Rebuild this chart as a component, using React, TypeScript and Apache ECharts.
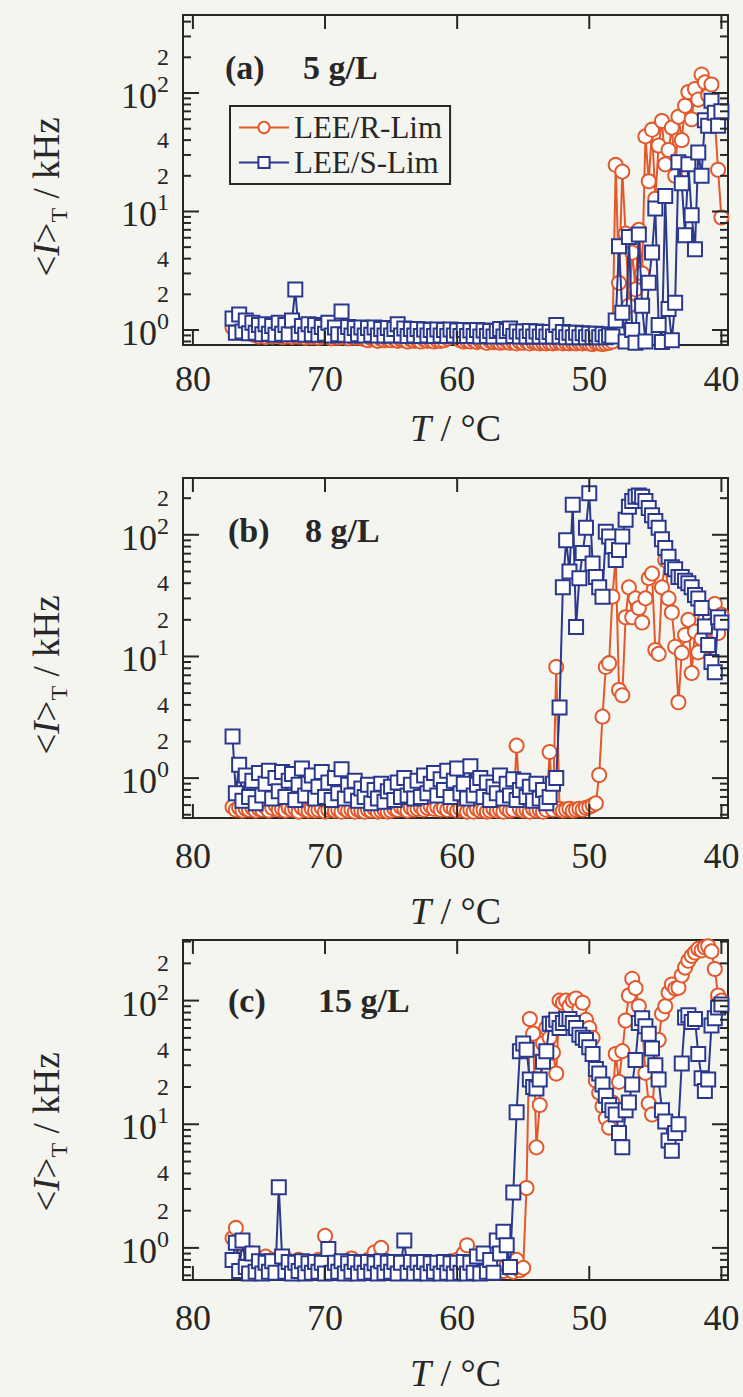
import React, { useEffect, useRef } from 'react';
import * as echarts from 'echarts';

// ---------- data ----------
const temperatureC = [
  77, 76.75, 76.5, 76.25, 76, 75.75, 75.5, 75.25,
  75, 74.75, 74.5, 74.25, 74, 73.75, 73.5, 73.25,
  73, 72.75, 72.5, 72.25, 72, 71.75, 71.5, 71.25,
  71, 70.75, 70.5, 70.25, 70, 69.75, 69.5, 69.25,
  69, 68.75, 68.5, 68.25, 68, 67.75, 67.5, 67.25,
  67, 66.75, 66.5, 66.25, 66, 65.75, 65.5, 65.25,
  65, 64.75, 64.5, 64.25, 64, 63.75, 63.5, 63.25,
  63, 62.75, 62.5, 62.25, 62, 61.75, 61.5, 61.25,
  61, 60.75, 60.5, 60.25, 60, 59.75, 59.5, 59.25,
  59, 58.75, 58.5, 58.25, 58, 57.75, 57.5, 57.25,
  57, 56.75, 56.5, 56.25, 56, 55.75, 55.5, 55.25,
  55, 54.75, 54.5, 54.25, 54, 53.75, 53.5, 53.25,
  53, 52.75, 52.5, 52.25, 52, 51.75, 51.5, 51.25,
  51, 50.75, 50.5, 50.25, 50, 49.75, 49.5, 49.25,
  49, 48.75, 48.5, 48.25, 48, 47.75, 47.5, 47.25,
  47, 46.75, 46.5, 46.25, 46, 45.75, 45.5, 45.25,
  45, 44.75, 44.5, 44.25, 44, 43.75, 43.5, 43.25,
  43, 42.75, 42.5, 42.25, 42, 41.75, 41.5, 41.25,
  41, 40.75, 40.5, 40.25, 40,
];

// (a) 5 g/L
const rLim5 = [
  1.05, 0.98, 1.12, 0.95, 1.2, 0.97, 0.92, 0.9,
  0.88, 0.91, 0.87, 0.9, 0.88, 0.92, 0.89, 0.87,
  0.88, 0.91, 0.87, 0.89, 0.88, 0.9, 0.86, 0.88,
  0.87, 0.89, 0.86, 0.88, 0.87, 0.88, 0.85, 0.87,
  0.86, 0.88, 0.87, 0.85, 0.88, 0.86, 0.87, 0.85,
  0.84, 0.82, 0.85, 0.83, 0.81, 0.84, 0.82, 0.83,
  0.82, 0.84, 0.81, 0.83, 0.82, 0.8, 0.83, 0.81,
  0.82, 0.8, 0.83, 0.81, 0.82, 0.8, 0.82, 0.81,
  0.82, 0.85, 0.9, 1.0, 0.88, 0.82, 0.8, 0.81,
  0.8, 0.82, 0.79, 0.81, 0.8, 0.78, 0.81, 0.79,
  0.8, 0.78, 0.79, 0.81, 0.78, 0.79, 0.77, 0.79,
  0.78, 0.8, 0.77, 0.79, 0.78, 0.77, 0.78, 0.77,
  0.78, 0.77, 0.78, 0.79, 0.77, 0.78, 0.77, 0.78,
  0.77, 0.78, 0.77, 0.78, 0.77, 0.76, 0.78, 0.77,
  0.76, 0.77, 0.78, 0.8, 24.7, 2.5, 21.7, 6.5,
  1.6, 4.5, 2.2, 7.0, 3.0, 43, 18, 49,
  12.8, 36, 58, 25, 33, 51, 20, 63,
  40, 78, 102, 60, 108, 88, 143, 123,
  95, 118, 60, 22.5, 8.9,
];
const sLim5 = [
  1.25, 0.95, 1.35, 0.97, 1.2, 0.94, 1.15, 0.95,
  1.1, 0.92, 1.12, 0.93, 1.08, 0.91, 1.15, 0.93,
  1.1, 0.92, 1.2, 2.2, 0.93, 1.08, 0.91, 1.12,
  0.92, 1.1, 0.91, 1.06, 0.93, 1.15, 0.9, 1.05,
  0.92, 1.43, 0.91, 1.06, 0.9, 1.04, 0.92, 1.05,
  0.9, 1.04, 0.91, 1.05, 0.9, 1.02, 0.9, 1.04,
  0.9, 1.02, 1.12, 0.9, 1.03, 0.89, 1.02, 0.9,
  1.02, 0.89, 1.01, 0.9, 1.0, 0.89, 1.01, 0.9,
  1.0, 0.89, 1.01, 0.9, 0.99, 0.89, 1.0, 0.89,
  0.99, 0.89, 1.0, 0.88, 0.99, 0.89, 0.98, 0.88,
  0.98, 1.02, 0.88, 0.98, 1.03, 0.89, 0.97, 0.88,
  0.97, 0.88, 0.98, 0.88, 0.97, 0.88, 0.96, 0.88,
  0.96, 0.88, 1.1, 0.88, 0.96, 0.87, 0.95, 0.87,
  0.95, 0.87, 0.94, 0.87, 0.93, 0.87, 0.93, 0.87,
  0.92, 0.87, 0.9, 0.88, 1.2, 5.1, 1.4, 0.8,
  6.1, 1.0, 0.78, 6.4, 1.6, 0.8, 2.5, 4.5,
  10.6, 1.1, 0.79, 13.5, 1.5, 0.82, 1.7, 26,
  17.3, 6.3, 25, 9.3, 4.8, 31.5, 20, 59,
  53, 86, 68, 53, 70,
];

// (b) 8 g/L
const rLim8 = [
  0.58, 0.55, 0.57, 0.54, 0.56, 0.55, 0.57, 0.54,
  0.56, 0.55, 0.58, 0.54, 0.57, 0.6, 0.55, 0.56,
  0.54, 0.57, 0.55, 0.56, 0.53, 0.57, 0.55, 0.54,
  0.56, 0.54, 0.55, 0.57, 0.53, 0.55, 0.56, 0.54,
  0.55, 0.53, 0.56, 0.54, 0.55, 0.53, 0.55, 0.54,
  0.53, 0.55, 0.54, 0.56, 0.53, 0.54, 0.55, 0.53,
  0.54, 0.56, 0.55, 0.58, 0.56, 0.54, 0.57, 0.55,
  0.56, 0.58, 0.55, 0.57, 0.59, 0.56, 0.58, 0.55,
  0.57, 0.55, 0.58, 0.56, 0.54, 0.56, 0.55, 0.53,
  0.55, 0.53, 0.56, 0.54, 0.55, 0.53, 0.54, 0.56,
  0.54, 0.55, 0.53, 0.56, 0.54, 0.55, 1.85, 0.56,
  0.54, 0.55, 0.53, 0.56, 0.54, 0.55, 0.53, 0.55,
  1.64, 0.55, 8.2, 0.56, 0.54, 0.55, 0.56, 0.54,
  0.55, 0.56, 0.55, 0.57, 0.58, 0.6, 0.62, 1.06,
  3.2, 8.2, 8.8, 31, 65, 5.3, 4.8, 21,
  37, 21, 30, 25, 19, 30, 44, 48,
  11.3, 10.5, 37, 62, 30, 23, 12, 4.2,
  10.7, 15, 20, 7.3, 16, 10.8, 14, 20,
  12, 18, 27, 15.6, 22,
];
const sLim8 = [
  2.2, 0.75, 1.29, 0.65, 1.05, 0.7, 0.95, 0.62,
  1.1, 0.72, 0.9, 1.15, 0.68, 1.0, 0.78, 1.12,
  0.7, 0.95, 1.08, 0.66, 0.88, 1.2, 0.72, 0.9,
  1.05, 0.68, 0.85, 1.12, 0.7, 0.92, 0.66, 1.0,
  0.75, 1.18, 0.68, 0.88, 0.72, 0.95, 0.65, 0.82,
  0.7, 0.88, 0.62, 0.8, 0.68, 0.9, 0.64, 0.78,
  0.85, 0.66, 0.92, 0.7, 1.0, 0.72, 0.88, 0.68,
  0.95, 0.7, 1.05, 0.75, 0.9, 1.1, 0.72, 0.98,
  0.8, 1.15, 0.7, 0.95, 1.2, 0.75, 0.9, 0.68,
  1.25, 0.72, 0.88, 1.0, 0.7, 0.92, 0.66, 0.85,
  0.75, 1.05, 0.68, 0.9, 0.72, 0.98, 0.66, 0.8,
  0.95, 0.7, 0.85, 0.65, 0.9, 0.68, 0.8, 0.62,
  0.7, 0.9, 1.0, 3.8, 37, 90, 50, 177,
  17.5, 44, 71, 114, 220, 58, 45, 37,
  31, 106, 97, 80, 62, 75, 97, 133,
  170, 190, 205, 210, 205, 190, 166, 145,
  130, 114, 92, 78, 66, 54, 52, 45,
  45, 42, 40, 37, 32, 30, 25, 17.6,
  12.4, 9, 7.4, 21, 19,
];

// (c) 15 g/L
const rLim15 = [
  1.2, 1.45, 0.8, 0.7, 0.85, 0.75, 0.9, 0.72,
  0.78, 0.7, 0.85, 0.68, 0.8, 0.72, 0.76, 0.7,
  0.82, 0.68, 0.75, 0.7, 0.8, 0.67, 0.74, 0.7,
  0.72, 0.68, 0.8, 0.74, 1.25, 0.7, 0.78, 0.66,
  0.72, 0.68, 0.76, 0.7, 0.82, 0.68, 0.73, 0.7,
  0.68, 0.8, 0.7, 0.92, 0.72, 1.0, 0.7, 0.75,
  0.68, 0.74, 0.7, 0.66, 0.73, 0.69, 0.72, 0.67,
  0.7, 0.66, 0.75, 0.68, 0.72, 0.65, 0.7, 0.67,
  0.72, 0.68, 0.78, 0.7, 0.8, 0.7, 0.9, 1.05,
  0.68, 0.65, 0.7, 0.66, 0.72, 0.65, 0.68, 0.64,
  0.68, 0.7, 0.65, 0.72, 0.67, 0.64, 0.8, 0.66,
  0.69, 3.05, 71, 54, 6.5, 14.3, 45, 60,
  50, 38, 25.7, 100, 96, 100, 90, 100,
  104, 85, 96, 70, 60, 50, 22.6, 18,
  14, 11.2, 9.4, 15, 37, 22, 39, 69,
  110, 150, 126, 90, 65, 26, 14.7, 12,
  30, 48, 78, 90, 116, 135, 125, 127,
  160, 185, 210, 230, 245, 262, 255, 270,
  275, 250, 180, 110, 100,
];
const sLim15 = [
  0.8, 1.1, 0.65, 1.15, 0.7, 0.62, 0.9, 0.64,
  0.78, 0.62, 0.76, 0.64, 0.78, 0.63, 3.1, 0.85,
  0.64, 0.77, 0.62, 0.76, 0.65, 0.78, 0.62, 0.75,
  0.63, 0.77, 0.64, 0.76, 0.62, 0.98, 0.63, 0.76,
  0.64, 0.78, 0.62, 0.75, 0.64, 0.77, 0.62, 0.76,
  0.63, 0.77, 0.64, 0.75, 0.62, 0.78, 0.63, 0.76,
  0.64, 0.77, 0.62, 0.76, 1.15, 0.63, 0.77, 0.62,
  0.76, 0.63, 0.77, 0.62, 0.75, 0.64, 0.76, 0.62,
  0.77, 0.63, 0.75, 0.62, 0.76, 0.63, 0.77, 0.62,
  0.76, 0.63, 0.85, 0.62, 0.9, 0.64, 0.8, 0.63,
  1.15, 0.9, 1.35, 1.05, 0.7, 2.8, 12.5, 39,
  45, 40, 23, 20, 19.5, 23, 32, 39,
  65, 65, 70, 60, 66, 71, 71, 66,
  60, 53, 50, 48, 42, 37, 28, 25.7,
  21, 17, 14.3, 13, 12, 8.5, 6.5, 13,
  15, 21, 33, 66, 72, 62, 54, 41,
  30, 23, 13, 10.5, 7.4, 6.1, 8.5, 10,
  31, 73, 76, 67, 71, 37, 23.5, 18.6,
  23, 63, 72, 88, 93,
];

const seriesNames = ['LEE/R-Lim', 'LEE/S-Lim'];
const panelTags = ['(a)', '(b)', '(c)'];
const panelConcentrations = ['5 g/L', '8 g/L', '15 g/L'];
const panelR = [rLim5, rLim8, rLim15];
const panelS = [sLim5, sLim8, sLim15];
const yMinKHz = [0.747, 0.47, 0.55];
const yMaxKHz = [455, 293, 309];
const xTickValues = [40, 50, 60, 70, 80];
const majorTicksKHz = [1, 10, 100];
const minorTicksKHz = [0.4, 0.5, 0.6, 0.7, 0.8, 0.9, 2, 3, 4, 5, 6, 7, 8, 9, 20, 30, 40, 50, 60, 70, 80, 90, 200, 300, 400];
const labelTicksKHz = [1, 2, 4, 10, 20, 40, 100, 200];

// ---------- layout / style ----------
const FONT = 'Liberation Serif';
const INK = '#272727';
const PAPER = '#f4f5ef';
const ORANGE = '#e2592c';
const BLUE = '#2a388d';
const X_MIN = 39.5;
const X_MAX = 80.75;
const GRID_LEFT = 183;
const GRID_WIDTH = 545;
const GRID_TOPS = [15, 478, 940];
const GRID_HEIGHTS = [330, 340, 340];
const X_NAME_GAP = [64, 74, 74];
const X_LABEL_MARGIN = [16, 20, 20];
const TAG_POS = [[225, 67], [228, 530], [228, 1000]];
const CONC_X = [303, 305, 318];
const Y_TITLE_POS = [[46, 197], [46, 675], [46, 1132]];

function yLabel(v: number) {
  const n = Math.round(v);
  if (Math.abs(v - n) < 1e-6) return `{b|10}{s|${n}}`;
  const m = Math.round(Math.pow(10, v - Math.floor(v)));
  return `{m|${m}}`;
}

function tickRenderer(params: any, api: any) {
  const xv = api.value(0);
  const yv = api.value(1);
  const kind = api.value(2);
  const pt = api.coord([xv, yv]);
  let x2 = pt[0];
  let y2 = pt[1];
  if (kind === 0 || kind === 1) {
    const len = kind === 0 ? 16 : 8;
    x2 = xv === X_MAX ? pt[0] + len : pt[0] - len;
  } else if (kind === 2) {
    y2 = pt[1] - 14;
  } else {
    y2 = pt[1] + 14;
  }
  return {
    type: 'line',
    shape: { x1: pt[0], y1: pt[1], x2, y2 },
    style: { stroke: INK, lineWidth: 2 },
  };
}

function buildOption() {
  const grid: any[] = [];
  const xAxis: any[] = [];
  const yAxis: any[] = [];
  const series: any[] = [];
  const graphic: any[] = [];
  const line = { color: INK, width: 2 };

  for (let p = 0; p < 3; p++) {
    grid.push({ left: GRID_LEFT, width: GRID_WIDTH, top: GRID_TOPS[p], height: GRID_HEIGHTS[p] });
    const lo = Math.log10(yMinKHz[p]);
    const hi = Math.log10(yMaxKHz[p]);
    const inRange = (v: number) => v >= yMinKHz[p] && v <= yMaxKHz[p];
    const labels = labelTicksKHz.filter(inRange).map(Math.log10);

    const xBase = {
      type: 'value', gridIndex: p, min: X_MIN, max: X_MAX, inverse: true,
      splitLine: { show: false },
      axisLine: { show: true, onZero: false, lineStyle: line },
      axisTick: { show: false },
    };
    xAxis.push({
      ...xBase, position: 'bottom',
      axisLabel: {
        show: true, customValues: xTickValues, fontSize: 36, fontFamily: FONT, color: INK,
        margin: X_LABEL_MARGIN[p], showMinLabel: true, showMaxLabel: true,
      },
      name: '{i|T} / °C', nameLocation: 'middle', nameGap: X_NAME_GAP[p],
      nameTextStyle: {
        fontFamily: FONT, fontSize: 38, color: INK,
        rich: { i: { fontFamily: FONT, fontSize: 38, color: INK, fontStyle: 'italic' } },
      },
    });
    xAxis.push({ ...xBase, position: 'top', axisLabel: { show: false } });

    // data axis (log scale)
    yAxis.push({ type: 'log', logBase: 10, gridIndex: p, min: yMinKHz[p], max: yMaxKHz[p], show: false });
    const yBase = {
      type: 'value', gridIndex: p, min: lo, max: hi, splitLine: { show: false },
      axisTick: { show: false },
      axisLine: { show: true, onZero: false, lineStyle: line },
    };
    yAxis.push({
      ...yBase, position: 'left',
      axisLabel: {
        show: true, customValues: labels, formatter: yLabel, margin: 14, color: INK, fontFamily: FONT,
        showMinLabel: true, showMaxLabel: true, hideOverlap: false,
        rich: {
          b: { fontSize: 36, fontFamily: FONT, color: INK, lineHeight: 42, verticalAlign: 'bottom' },
          s: { fontSize: 24, fontFamily: FONT, color: INK, lineHeight: 24, verticalAlign: 'top' },
          m: { fontSize: 24, fontFamily: FONT, color: INK },
        },
      },
    });
    yAxis.push({ ...yBase, position: 'right', axisLabel: { show: false } });

    const mk = (name: string, vals: number[], color: string, symbol: string, z: number) => ({
      type: 'line', name, xAxisIndex: p * 2, yAxisIndex: p * 3,
      data: temperatureC.map((t, i) => [t, vals[i]]),
      symbol, symbolSize: 14, showAllSymbol: true, z,
      lineStyle: { color, width: 2 },
      itemStyle: { color: '#ffffff', borderColor: color, borderWidth: 2 },
      emphasis: { disabled: true },
    });
    series.push(mk(seriesNames[0], panelR[p], ORANGE, 'circle', 2));
    series.push(mk(seriesNames[1], panelS[p], BLUE, 'rect', 3));

    // tick marks, placed through the same axes
    const tickData: number[][] = [];
    majorTicksKHz.filter(inRange).forEach((v) => { tickData.push([X_MAX, v, 0]); tickData.push([X_MIN, v, 0]); });
    minorTicksKHz.filter(inRange).forEach((v) => { tickData.push([X_MAX, v, 1]); tickData.push([X_MIN, v, 1]); });
    xTickValues.forEach((t) => { tickData.push([t, yMinKHz[p], 2]); tickData.push([t, yMaxKHz[p], 3]); });
    series.push({
      type: 'custom', xAxisIndex: p * 2, yAxisIndex: p * 3, data: tickData,
      encode: { x: 0, y: 1 }, renderItem: tickRenderer, silent: true, clip: false, z: 10,
    });

    graphic.push({
      type: 'text', x: TAG_POS[p][0], y: TAG_POS[p][1],
      style: { text: panelTags[p], font: `bold 34px ${FONT}`, fill: INK, verticalAlign: 'middle' },
    });
    graphic.push({
      type: 'text', x: CONC_X[p], y: TAG_POS[p][1],
      style: { text: panelConcentrations[p], font: `bold 34px ${FONT}`, fill: INK, verticalAlign: 'middle' },
    });
    graphic.push({
      type: 'text', x: Y_TITLE_POS[p][0], y: Y_TITLE_POS[p][1], rotation: Math.PI / 2,
      style: {
        text: '<{i|I}>{t|T} / kHz',
        fontFamily: FONT, fontSize: 37, fill: INK, lineHeight: 50,
        align: 'center', verticalAlign: 'middle',
        rich: {
          i: { fontFamily: FONT, fontSize: 37, fill: INK, fontStyle: 'italic', lineHeight: 50 },
          t: { fontFamily: FONT, fontSize: 24, fill: INK, lineHeight: 22, verticalAlign: 'bottom' },
        },
      },
    });
  }

  return {
    animation: false,
    backgroundColor: PAPER,
    grid, xAxis, yAxis, series, graphic,
    legend: {
      data: seriesNames, left: 230, top: 106, orient: 'vertical',
      itemWidth: 50, itemHeight: 14, itemGap: 4,
      padding: [6, 8, 6, 8], borderColor: INK, borderWidth: 2,
      textStyle: { fontFamily: FONT, fontSize: 31, color: INK },
    },
  };
}

export default function App() {
  const ref = useRef<HTMLDivElement>(null);
  useEffect(() => {
    const chart = echarts.init(ref.current!, undefined, { renderer: 'svg' });
    chart.setOption(buildOption() as any);
    return () => chart.dispose();
  }, []);
  return (
    <div
      ref={ref}
      style={{ position: 'absolute', left: 0, top: 0, width: 743, height: 1397, background: PAPER }}
    />
  );
}
